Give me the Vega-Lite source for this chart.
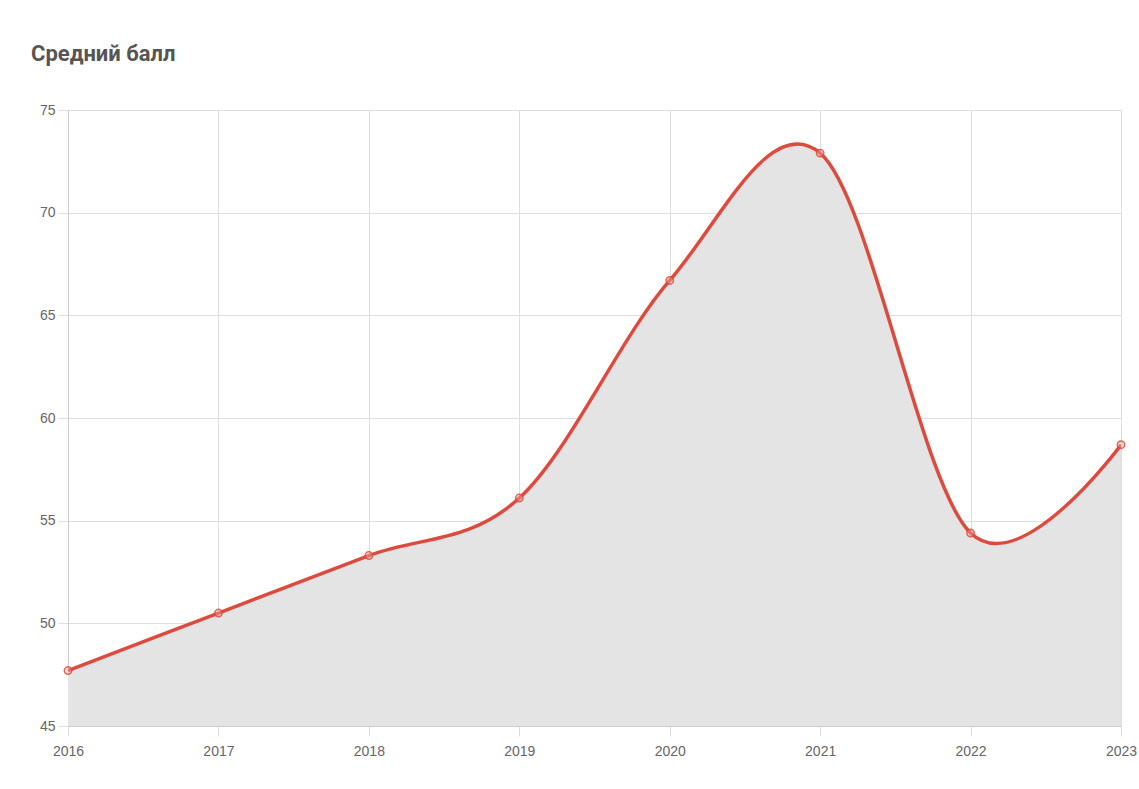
{
  "$schema": "https://vega.github.io/schema/vega-lite/v6.json",
  "autosize": "none",
  "width": 1053,
  "height": 616,
  "padding": {"left": 68, "top": 110, "right": 18, "bottom": 63},
  "background": "#ffffff",
  "title": {
    "text": "Средний балл",
    "anchor": "start",
    "frame": "group",
    "dx": -37,
    "offset": 20,
    "baseline": "alphabetic",
    "font": "Roboto",
    "fontSize": 22,
    "fontWeight": "bold",
    "color": "#555555"
  },
  "data": {
    "values": [
      {"year": 2016, "score": 47.7},
      {"year": 2017, "score": 50.5},
      {"year": 2018, "score": 53.3},
      {"year": 2019, "score": 56.1},
      {"year": 2020, "score": 66.7},
      {"year": 2021, "score": 72.9},
      {"year": 2022, "score": 54.4},
      {"year": 2023, "score": 58.7}
    ]
  },
  "config": {
    "view": {"stroke": null},
    "axis": {
      "labelFont": "Liberation Sans",
      "labelFontSize": 14,
      "labelColor": "#666666",
      "gridColor": "#dedede",
      "tickColor": "#dedede",
      "domainColor": "#cccccc",
      "tickSize": 10,
      "title": null
    }
  },
  "encoding": {
    "x": {
      "field": "year",
      "type": "quantitative",
      "scale": {"domain": [2016, 2023], "nice": false, "zero": false},
      "axis": {"values": [2016, 2017, 2018, 2019, 2020, 2021, 2022, 2023], "format": "d", "labelPadding": 8, "labelFlush": false, "labelOverlap": false}
    },
    "y": {
      "field": "score",
      "type": "quantitative",
      "scale": {"domain": [45, 75], "nice": false, "zero": false},
      "axis": {"values": [45, 50, 55, 60, 65, 70, 75], "labelPadding": 3}
    }
  },
  "layer": [
    {
      "mark": {"type": "area", "interpolate": "cardinal", "tension": 0, "color": "#e4e4e4", "clip": true},
      "encoding": {"y2": {"datum": 45}}
    },
    {
      "mark": {"type": "line", "interpolate": "cardinal", "tension": 0, "color": "#dd4b3e", "strokeWidth": 3.5, "clip": true}
    },
    {
      "mark": {"type": "point", "shape": "circle", "filled": false, "size": 55, "stroke": "#dd4b3e", "strokeWidth": 1.5, "fill": "#f0a8a0", "fillOpacity": 0.5, "opacity": 0.85}
    }
  ]
}
